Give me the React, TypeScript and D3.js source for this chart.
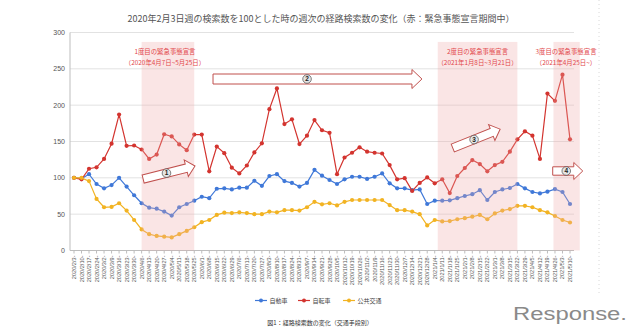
import React from "react";
import * as d3 from "d3";

const weeks: string[] = [
  "2020/2/3-","2020/2/10-","2020/2/17-","2020/2/24-","2020/3/2-","2020/3/9-","2020/3/16-","2020/3/23-","2020/3/30-",
  "2020/4/6-","2020/4/13-","2020/4/20-","2020/4/27-","2020/5/4-","2020/5/11-","2020/5/18-","2020/5/25-",
  "2020/6/1-","2020/6/8-","2020/6/15-","2020/6/22-","2020/6/29-","2020/7/6-","2020/7/13-","2020/7/20-","2020/7/27-",
  "2020/8/3-","2020/8/10-","2020/8/17-","2020/8/24-","2020/8/31-","2020/9/7-","2020/9/14-","2020/9/21-","2020/9/28-",
  "2020/10/5-","2020/10/12-","2020/10/19-","2020/10/26-","2020/11/2-","2020/11/9-","2020/11/16-","2020/11/23-","2020/11/30-",
  "2020/12/7-","2020/12/14-","2020/12/21-","2020/12/28-",
  "2021/1/4-","2021/1/11-","2021/1/18-","2021/1/25-","2021/2/1-","2021/2/8-","2021/2/15-","2021/2/22-",
  "2021/3/1-","2021/3/8-","2021/3/15-","2021/3/22-","2021/3/29-","2021/4/5-","2021/4/12-","2021/4/19-","2021/4/26-",
  "2021/5/3-","2021/5/10-"
];

const car: number[] = [
  100,99,105,91.5,85.5,90,100,88,76,65,59,57.5,53.5,48,59.5,64,68.5,74,72,85,85.5,84,86.5,86.5,
  96,89,102.5,105,95.5,93,88,93,111,103,97,91.5,98,101.5,101.5,98.5,101.5,106,92.5,85.5,85.5,83,84,
  64,68.5,68.5,69,72,75,77.5,83,69.5,80.5,84,86,91.5,85.5,80.5,78.5,81,84.5,80.5,64
];
const bicycle: number[] = [
  100,98,112.5,114.5,126,147,187,144,144.5,139,126,132,160,157,146,138,159.5,159.5,109,143,134,114,106,117,
  135,147.5,194.5,223,174,180.5,146.5,158,179.5,165.5,162,105,128,134.5,142,136,134.5,133.5,117.5,98,99.5,82,93,
  100.5,92.5,98,79,102.5,113.5,124.5,119,109,117.5,122,136,153,164,158,126,216,206,242,153
];
const transit: number[] = [
  100,100,95.5,71,59.5,60,65,55,42,29,22.5,20,19,18,22.5,27,32,39,42,49,52,51.5,52.5,51.5,
  50,50,53.5,52.5,55.5,55.5,55,59.5,67,63.5,65,62,67,69.5,69.5,69.5,69.5,69.5,62.5,55.5,55.5,53.5,50,
  34.5,42,40,40.5,43,44.5,46.5,49,43,51,55,57,61.5,61.5,59.5,55.5,52.5,47.5,42,38.5
];

const seriesNames: string[] = ["自動車", "自転車", "公共交通"];
const seriesColors: string[] = ["#3f78d8", "#d3342f", "#f2b322"];
const yTicks: number[] = [0, 50, 100, 150, 200, 250, 300];

// emergency periods: [start index, end index] in week positions
const periods: [number, number][] = [[9, 16], [48.4, 59], [63.8, 67.3]];
const periodTitles: string[] = ["1度目の緊急事態宣言", "2度目の緊急事態宣言", "3度目の緊急事態宣言"];
const periodDates: string[] = ["（2020年4月7日~5月25日）", "（2021年1月8日~3月21日）", "（2021年4月25日~）"];

// arrows: [x0 idx, v0, x1 idx, v1, label]
const arrows: [number, number, number, number, string][] = [
  [9.2, 98.4, 16.1, 116.3, "1"],
  [18.5, 236, 46.3, 236, "2"],
  [50.4, 141, 56.7, 167, "3"],
  [63.7, 109.4, 67.7, 109.4, "4"],
];

const W = 640, H = 334;
const x = d3.scaleLinear().domain([0, weeks.length - 1]).range([74, 570]);
const y = d3.scaleLinear().domain([0, 300]).range([250.5, 32.5]);
const plotLeft = 70, plotRight = 574;

function arrowPath(L: number, h: number, Hh: number, hl: number) {
  return `M0,${-h} L${L - hl},${-h} L${L - hl},${-Hh} L${L},0 L${L - hl},${Hh} L${L - hl},${h} L0,${h} Z`;
}

export default function App() {
  const data = [car, bicycle, transit];
  const line = d3.line<number>().x((_, i) => x(i)).y((d) => y(d));
  const jp = "'Noto Sans CJK JP', 'Noto Sans', sans-serif";
  const lat = "'Liberation Sans', Arial, sans-serif";
  const bandTop = y(287);
  return (
    <svg width={W} height={H} style={{ position: "absolute", left: 0, top: 0, background: "#fff" }}>
      <text x={321} y={22} textAnchor="middle" fontFamily={jp} fontSize={9} fill="#555">
        2020年2月3日週の検索数を100とした時の週次の経路検索数の変化（赤：緊急事態宣言期間中）
      </text>
      {/* gridlines */}
      {yTicks.map((t) => (
        <g key={t}>
          {t > 0 && <line x1={plotLeft} x2={plotRight} y1={y(t)} y2={y(t)} stroke="#e2e2e2" strokeWidth={1} />}
          <text x={65} y={y(t)} dy="0.35em" textAnchor="end" fontFamily={lat} fontSize={7} fill="#555">{t}</text>
        </g>
      ))}
      <line x1={plotLeft} x2={plotLeft} y1={y(300)} y2={y(0)} stroke="#bdbdbd" />
      <line x1={plotLeft} x2={plotRight} y1={y(0)} y2={y(0)} stroke="#bdbdbd" />
      <line x1={599} x2={599} y1={0} y2={295} stroke="#d8d8d8" strokeDasharray="1,3" />
      {weeks.map((w, i) => (
        <g key={w}>
          <line x1={x(i)} x2={x(i)} y1={y(0)} y2={y(0) + 3} stroke="#bdbdbd" />
          <text transform={`translate(${x(i) + 2},${y(0) + 5}) rotate(-90)`} textAnchor="end"
            fontFamily={lat} fontSize={5.6} fill="#555">{w}</text>
        </g>
      ))}
      {/* series */}
      {data.map((s, k) => (
        <g key={k}>
          <path d={line(s) || ""} fill="none" stroke={seriesColors[k]} strokeWidth={1.2} />
          {s.map((v, i) => (
            <circle key={i} cx={x(i)} cy={y(v)} r={2.1} fill={seriesColors[k]} />
          ))}
        </g>
      ))}
      {/* emergency bands (overlay) */}
      {periods.map((p, i) => (
        <rect key={i} x={x(p[0])} y={bandTop} width={x(p[1]) - x(p[0])} height={y(0) - bandTop}
          fill="rgb(240,170,170)" fillOpacity={0.3} />
      ))}
      {periods.map((p, i) => {
        const cx = i === 0 ? x(p[0]) + (x(p[1]) - x(p[0])) / 2 - 3 : x(p[0]) + (x(p[1]) - x(p[0])) / 2 + (i === 2 ? 0 : 0);
        const cxx = i === 2 ? 566 : cx;
        return (
          <g key={"t" + i} fontFamily={jp} fontSize={6.4} fill="#e2474b" textAnchor="middle">
            <text x={cxx} y={52} dy="0.35em">{periodTitles[i]}</text>
            <text x={cxx} y={63} dy="0.35em">{periodDates[i]}</text>
          </g>
        );
      })}
      {/* arrows */}
      {arrows.map((a, i) => {
        const x0 = x(a[0]), y0 = y(a[1]), x1 = x(a[2]), y1 = y(a[3]);
        const L = Math.hypot(x1 - x0, y1 - y0);
        const ang = (Math.atan2(y1 - y0, x1 - x0) * 180) / Math.PI;
        const big = i === 1;
        return (
          <g key={"a" + i} transform={`translate(${x0},${y0}) rotate(${ang})`}>
            <path d={arrowPath(L, big ? 5 : 4.2, big ? 9.5 : 8.5, big ? 10 : 9)} fill="#fff" stroke="#c0504d" strokeWidth={1} />
            <g transform={`translate(${L * 0.45},0) rotate(${-ang})`}>
              <circle r={4.3} fill="#e4e4e4" stroke="#333" strokeWidth={0.6} />
              <text y={0} dy="0.35em" textAnchor="middle" fontFamily={lat} fontSize={6.5} fontWeight="bold" fill="#222">{a[4]}</text>
            </g>
          </g>
        );
      })}
      {/* legend */}
      {seriesNames.map((n, k) => {
        const lx = [255, 298, 343][k];
        return (
          <g key={n}>
            <line x1={lx} x2={lx + 12} y1={300.5} y2={300.5} stroke={seriesColors[k]} strokeWidth={1.2} />
            <circle cx={lx + 6} cy={300.5} r={2} fill={seriesColors[k]} />
            <text x={lx + 14.5} y={300.5} dy="0.35em" fontFamily={jp} fontSize={6} fill="#444">{n}</text>
          </g>
        );
      })}
      <text x={320} y={323} dy="0.35em" textAnchor="middle" fontFamily={jp} fontSize={6} fill="#333">
        図1：経路検索数の変化（交通手段別）
      </text>
      <text x={513} y={320} fontFamily={lat} fontSize={18} fill="#8a8a8a" textLength={114} lengthAdjust="spacingAndGlyphs">
        Response.
      </text>
    </svg>
  );
}
